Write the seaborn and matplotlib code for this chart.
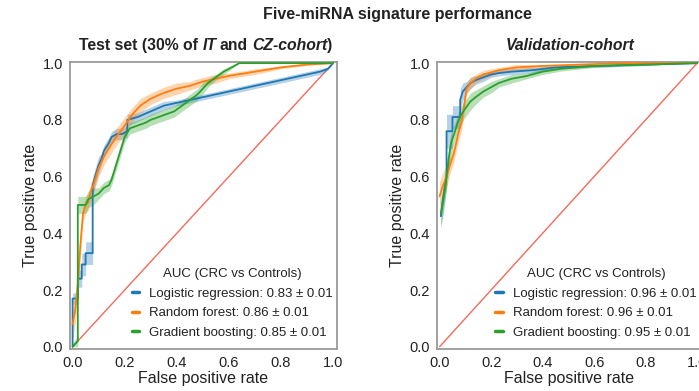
import numpy as np
import matplotlib
matplotlib.use("Agg")
import matplotlib.pyplot as plt
import seaborn as sns

# ---- data (mean ROC curves and band half-widths) ----
models = ["Logistic regression", "Random forest", "Gradient boosting"]
colors = ["#1f77b4", "#ff7f0e", "#2ca02c"]

test_auc = ["0.83 ± 0.01", "0.86 ± 0.01", "0.85 ± 0.01"]
val_auc = ["0.96 ± 0.01", "0.96 ± 0.01", "0.95 ± 0.01"]

# Test set
test_fpr_lr = [0, 0, 0.02, 0.02, 0.035, 0.035, 0.05, 0.05, 0.077, 0.077, 0.09, 0.10, 0.11, 0.12,
               0.14, 0.15, 0.17, 0.19, 0.21, 0.21, 0.25, 0.30, 0.35, 0.40, 0.45, 0.50, 0.55,
               0.60, 0.65, 0.70, 0.75, 0.80, 0.85, 0.90, 0.95, 0.98, 1.0]
test_tpr_lr = [0, 0.17, 0.17, 0.24, 0.24, 0.29, 0.29, 0.33, 0.33, 0.57, 0.61, 0.64, 0.66, 0.69,
               0.72, 0.74, 0.75, 0.75, 0.76, 0.80, 0.81, 0.83, 0.85, 0.86, 0.87, 0.88, 0.89,
               0.90, 0.91, 0.92, 0.93, 0.94, 0.95, 0.96, 0.97, 0.98, 1.0]
test_err_lr = [0.01, 0.02, 0.02, 0.03, 0.03, 0.04, 0.04, 0.04, 0.04, 0.03, 0.03, 0.03, 0.02, 0.02,
               0.02, 0.02, 0.02, 0.02, 0.02, 0.02, 0.015, 0.015, 0.015, 0.01, 0.01, 0.01, 0.01,
               0.01, 0.01, 0.01, 0.01, 0.01, 0.01, 0.01, 0.01, 0.005, 0]

test_fpr_rf = [0, 0.01, 0.02, 0.03, 0.04, 0.05, 0.06, 0.07, 0.08, 0.10, 0.12, 0.14, 0.16, 0.18,
               0.20, 0.23, 0.26, 0.30, 0.35, 0.40, 0.45, 0.50, 0.55, 0.60, 0.70, 0.80, 0.90, 1.0]
test_tpr_rf = [0.08, 0.13, 0.22, 0.36, 0.47, 0.50, 0.51, 0.55, 0.57, 0.63, 0.67, 0.70, 0.73, 0.755,
               0.78, 0.82, 0.85, 0.875, 0.895, 0.91, 0.92, 0.935, 0.945, 0.955, 0.97, 0.985, 0.995, 1.0]
test_err_rf = [0.05, 0.05, 0.05, 0.04, 0.03, 0.03, 0.03, 0.03, 0.03, 0.03, 0.03, 0.03, 0.03, 0.03,
               0.03, 0.025, 0.025, 0.02, 0.02, 0.02, 0.015, 0.015, 0.015, 0.01, 0.01, 0.005, 0.003, 0]

test_fpr_gb = [0, 0.02, 0.02, 0.05, 0.06, 0.08, 0.10, 0.12, 0.14, 0.15, 0.16, 0.17, 0.18, 0.19,
               0.20, 0.22, 0.25, 0.28, 0.30, 0.33, 0.36, 0.39, 0.42, 0.45, 0.48, 0.50, 0.52,
               0.55, 0.58, 0.61, 0.64, 1.0]
test_tpr_gb = [0, 0.02, 0.50, 0.50, 0.52, 0.53, 0.54, 0.56, 0.57, 0.59, 0.62, 0.65, 0.68, 0.71,
               0.74, 0.77, 0.78, 0.79, 0.80, 0.81, 0.82, 0.83, 0.85, 0.87, 0.89, 0.91, 0.93,
               0.95, 0.97, 0.985, 1.0, 1.0]
test_err_gb = [0.01, 0.02, 0.03, 0.03, 0.03, 0.03, 0.02, 0.02, 0.02, 0.02, 0.02, 0.02, 0.02, 0.02,
               0.02, 0.02, 0.02, 0.02, 0.02, 0.02, 0.02, 0.02, 0.02, 0.02, 0.02, 0.02, 0.015,
               0.01, 0.01, 0.005, 0, 0]

# Validation cohort
val_fpr_lr = [0.005, 0.01, 0.02, 0.027, 0.027, 0.05, 0.05, 0.08, 0.08, 0.09, 0.105, 0.12, 0.14,
              0.17, 0.20, 0.23, 0.28, 0.36, 0.45, 0.60, 0.80, 1.0]
val_tpr_lr = [0.46, 0.50, 0.56, 0.60, 0.76, 0.76, 0.81, 0.81, 0.87, 0.90, 0.915, 0.93, 0.94,
              0.95, 0.96, 0.965, 0.97, 0.975, 0.985, 0.99, 0.995, 1.0]
val_err_lr = [0.04, 0.04, 0.04, 0.04, 0.06, 0.06, 0.04, 0.04, 0.04, 0.03, 0.02, 0.02, 0.015,
              0.015, 0.01, 0.01, 0.01, 0.01, 0.005, 0.005, 0.003, 0]

val_fpr_rf = [0.0, 0.01, 0.027, 0.04, 0.055, 0.065, 0.075, 0.085, 0.095, 0.105, 0.12, 0.14,
              0.17, 0.23, 0.30, 0.40, 0.55, 0.70, 1.0]
val_tpr_rf = [0.53, 0.56, 0.60, 0.64, 0.68, 0.72, 0.76, 0.79, 0.85, 0.91, 0.93, 0.945,
              0.96, 0.975, 0.985, 0.99, 0.995, 1.0, 1.0]
val_err_rf = [0.05, 0.05, 0.04, 0.03, 0.03, 0.03, 0.03, 0.03, 0.03, 0.02, 0.02, 0.015,
              0.015, 0.01, 0.01, 0.005, 0.003, 0, 0]

val_fpr_gb = [0.005, 0.015, 0.027, 0.035, 0.045, 0.06, 0.07, 0.085, 0.10, 0.12, 0.14, 0.17,
              0.20, 0.23, 0.28, 0.34, 0.40, 0.47, 0.60, 0.80, 1.0]
val_tpr_gb = [0.47, 0.52, 0.60, 0.66, 0.72, 0.76, 0.79, 0.82, 0.84, 0.865, 0.88, 0.90,
              0.915, 0.93, 0.945, 0.955, 0.97, 0.98, 0.99, 0.995, 1.0]
val_err_gb = [0.05, 0.05, 0.05, 0.04, 0.04, 0.03, 0.03, 0.03, 0.03, 0.03, 0.025, 0.02,
              0.02, 0.015, 0.015, 0.01, 0.01, 0.008, 0.005, 0.003, 0]

test_curves = [(test_fpr_lr, test_tpr_lr, test_err_lr),
               (test_fpr_rf, test_tpr_rf, test_err_rf),
               (test_fpr_gb, test_tpr_gb, test_err_gb)]
val_curves = [(val_fpr_lr, val_tpr_lr, val_err_lr),
              (val_fpr_rf, val_tpr_rf, val_err_rf),
              (val_fpr_gb, val_tpr_gb, val_err_gb)]

ticks = [0.0, 0.2, 0.4, 0.6, 0.8, 1.0]

# ---- style ----
sns.set_theme(style="white")
plt.rcParams["font.family"] = ["Liberation Sans", "DejaVu Sans"]
text_color = "#222222"
spine_color = "#9a9a9a"


def draw_panel(ax, curves, aucs):
    ax.plot([0, 1], [0, 1], color="#f26b5b", lw=1.0, zorder=1)
    for (fpr, tpr, err), name, auc, c in zip(curves, models, aucs, colors):
        fpr = np.array(fpr)
        tpr = np.array(tpr)
        err = np.array(err)
        ax.fill_between(fpr, np.clip(tpr - err, 0, 1), np.clip(tpr + err, 0, 1),
                        color=c, alpha=0.33, lw=0, zorder=2)
        sns.lineplot(x=fpr, y=tpr, ax=ax, color=c, lw=1.3, sort=False, estimator=None,
                     label=f"{name}: {auc}", zorder=3)
    ax.set_xlim(-0.01, 1.015)
    ax.set_ylim(-0.008, 1.004)
    ax.set_xticks(ticks)
    ax.set_yticks(ticks)
    ax.set_xticklabels([f"{t:.1f}" for t in ticks])
    ax.set_yticklabels([f"{t:.1f}" for t in ticks])
    ax.tick_params(axis="both", direction="out", length=3, width=1, color=spine_color,
                   labelsize=10.5, labelcolor=text_color, pad=2)
    for sp in ax.spines.values():
        sp.set_color(spine_color)
        sp.set_linewidth(1.3)
    ax.set_xlabel("False positive rate", fontsize=11.5, color=text_color, labelpad=1)
    ax.set_ylabel("True positive rate", fontsize=11.5, color=text_color, labelpad=3)
    leg = ax.legend(title="AUC (CRC vs Controls)", loc="lower right", frameon=False,
                    fontsize=9.5, title_fontsize=9.5, handlelength=0.6, handletextpad=0.7,
                    labelspacing=0.55, borderaxespad=0.15, bbox_to_anchor=(1.01, 0.01))
    plt.setp(leg.get_texts(), color=text_color)
    leg.get_title().set_color(text_color)
    for h in leg.legend_handles:
        h.set_linewidth(2.5)


fig = plt.figure(figsize=(6.99, 3.91), dpi=100)
ax1 = fig.add_axes([70 / 699, 42 / 391, 267 / 699, 287 / 391])
ax2 = fig.add_axes([437 / 699, 42 / 391, 264 / 699, 287 / 391])

draw_panel(ax1, test_curves, test_auc)
draw_panel(ax2, val_curves, val_auc)

fig.text(397 / 699, 1 - 19 / 391, "Five-miRNA signature performance", ha="center",
         va="baseline", fontsize=11.5, fontweight="bold", color=text_color)


def rich_title(fig, x_center_px, y_base_px, parts, size):
    """Place bold text pieces (some italic) side by side on one baseline."""
    renderer = fig.canvas.get_renderer()
    probe_a = fig.text(0, 0, "xx", fontsize=size, fontweight="bold")
    probe_b = fig.text(0, 0, "x x", fontsize=size, fontweight="bold")
    space = probe_b.get_window_extent(renderer).width - probe_a.get_window_extent(renderer).width
    probe_a.remove()
    probe_b.remove()
    texts, widths = [], []
    for s, style, gap in parts:
        t = fig.text(0, 1 - y_base_px / 391, s, fontsize=size, fontweight="bold",
                     fontstyle=style, ha="left", va="baseline", color=text_color)
        texts.append((t, gap))
        w = t.get_window_extent(renderer).width + (space if gap else 0)
        if style == "italic" and gap:
            w -= 1.5
        widths.append(w)
    x = x_center_px - sum(widths) / 2
    for (t, gap), w in zip(texts, widths):
        t.set_x(x / 699)
        x += w


rich_title(fig, 206, 50, [("Test set (30% of", "normal", True), ("IT", "italic", True),
                          ("and", "normal", True), ("CZ-cohort", "italic", False),
                          (")", "normal", False)], 11.3)
rich_title(fig, 570, 50, [("Validation-cohort", "italic", False)], 11.3)

fig.savefig("out.png", dpi=100)
